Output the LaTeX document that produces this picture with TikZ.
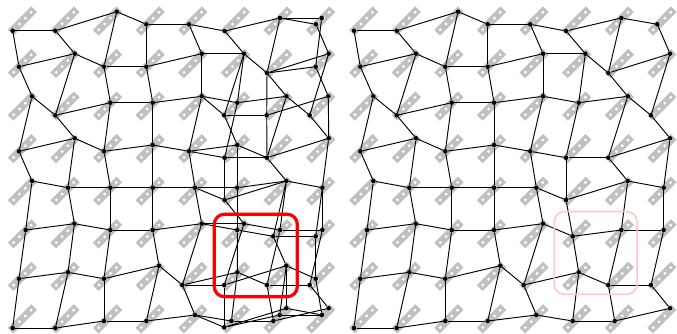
\documentclass[tikz,border=0pt]{standalone}
\definecolor{barcol}{HTML}{C0C0C0}
\definecolor{boxred}{HTML}{FF0000}
\definecolor{boxpale}{HTML}{FFC4C4}
\tikzset{
  dot/.style={circle,fill=black,inner sep=0pt,minimum size=4.6pt},
  mesh/.style={black,line width=0.95pt},
  barbody/.style={barcol,line width=8pt},
  barhole/.style={fill=white,draw=none},
  selstrong/.style={boxred,line width=3.2pt,rounded corners=10pt},
  selpale/.style={boxpale,line width=1.5pt,rounded corners=10pt}
}
\newcommand{\bars}{%
  \foreach \i in {0,...,7}{\foreach \j in {0,...,7}{
    \begin{scope}[shift={({22.4+42.6*\i},{21+42.55*\j})}]
      \draw[barbody] (-11.8,11.8) -- (11.8,-11.8);
      \foreach \h in {-8.7,-2.9,2.9,8.7}{\fill[barhole] (\h,-\h) circle (1.6);}
    \end{scope}}}}
\newcommand{\sharednodes}[1]{%
  \foreach \r/\c/\x/\y in {
   1/1/12.7/30.7,1/2/55.4/30.7,1/3/116.7/11.7,1/4/146.4/24.3,1/5/189/24.3,1/6/224.7/31,1/7/280/18,1/8/316/24.3,
   2/1/19/66.7,2/2/74.7/53.7,2/3/104/66.7,2/4/146.4/66.7,2/5/201.7/53.7,2/6/244/53.7,2/7/267/73,2/8/328.7/53.7,
   3/1/32/96.3,3/2/55.4/115.3,3/3/110.4/102.7,3/4/152.7/102.7,3/5/201.7/96.3,3/6/237.4/102.7,3/7/286.4/96.3,3/8/309.7/115.3,
   4/1/19/151.3,4/2/74.7/138.3,4/3/104/151.3,4/4/152.7/145,4/5/189/151.3,4/6/224.7/157.7,4/7/267/157.7,4/8/328.7/138.3,
   5/1/32/181,5/2/68/187.7,5/3/110.4/187.7,5/4/152.7/187.7,5/5/195/187.7,5/6/224.7/200,5/7/286.4/181,5/8/322.4/187.7,
   6/1/25.7/230,6/2/74.4/223.7,6/3/110.4/230,6/4/152.7/230,6/5/201.7/223.7,6/7/280/230,6/8/322.4/230,
   7/1/19/278.7,7/2/68/272.3,7/3/104/278.7,7/4/159/265.7,7/5/182.4/285,7/6/237.4/272.3,7/7/267/285,7/8/309.7/285,
   8/1/12.7/328,8/2/55.4/328,8/3/104/321,8/4/146.4/321,8/5/195/315,8/6/231.4/321,8/7/273.4/321,8/8/328.7/308.3}{
     \node[dot] (#1r\r c\c) at (\x,\y) {};
  }}
\newcommand{\sharededges}[1]{%
  \foreach \r in {1,2,3,4,5,7,8}{\foreach \c [evaluate=\c as \d using int(\c+1)] in {1,...,7}{
    \draw[mesh] (#1r\r c\c) -- (#1r\r c\d);}}
  \foreach \c in {1,2,3,4,5,7,8}{\foreach \r [evaluate=\r as \s using int(\r+1)] in {1,...,7}{
    \draw[mesh] (#1r\r c\c) -- (#1r\s c\c);}}
  \foreach \c [evaluate=\c as \d using int(\c+1)] in {1,2,3,4,7}{
    \draw[mesh] (#1r6c\c) -- (#1r6c\d);}
  \foreach \r [evaluate=\r as \s using int(\r+1)] in {1,2,3,4,7}{
    \draw[mesh] (#1r\r c6) -- (#1r\s c6);}
}
\begin{document}
\begin{tikzpicture}[x=1pt,y=-1pt]
\useasboundingbox (0,0) rectangle (677,333);
\bars
\begin{scope}[xshift=341.33pt]\bars\end{scope}
% left mesh
\sharednodes{L}
\foreach \n/\x/\y in {xE/321.7/18,xJ/315.7/66.7,xO/224.3/115.3,xP/266.7/115.3,xQ/328.3/96.3,xV/237.3/145,
  xb/237.3/187.7,xg/244/223.7,xh/237.3/230,xi/273.3/236.3,xk/315.7/236.3,xn/286.3/265.7,xo/315.7/278.7,
  xq/224.3/285,xu/224.3/327.3,xx/279.7/315,xy/286.3/308.3,xz/322/315}{
  \node[dot] (\n) at (\x,\y) {};
}
\sharededges{L}
\foreach \a/\b in {Lr1c7/xE,xE/xJ,Lr2c7/xJ,xJ/xQ,xQ/Lr4c8,xQ/xP,xP/xO,Lr3c5/xO,xO/Lr2c6,xO/xV,Lr2c7/xP,xP/Lr4c7,
  Lr4c5/xV,xV/Lr4c7,xV/xb,Lr5c5/xb,xb/Lr5c7,xb/xh,Lr5c6/xg,Lr6c5/xg,xg/Lr6c7,Lr6c5/xh,xh/xi,xi/xk,xh/Lr7c6,xg/xq,
  Lr7c5/xq,xq/xn,xn/xo,Lr5c7/xi,xi/xn,Lr5c8/xk,xk/xo,xq/xu,Lr8c5/xu,xu/xx,xu/xy,xn/xx,xn/xy,xx/xz,xy/xz,xo/xz}{
  \draw[mesh] (\a) -- (\b);
}
\node[inner sep=0pt,minimum size=0pt] (boxLa) at (214.3,214.3) {};
\node[inner sep=0pt,minimum size=0pt] (boxLb) at (297.3,296.7) {};
\draw[selstrong] (boxLa) rectangle (boxLb);
% right mesh
\begin{scope}[xshift=341.33pt]
\sharednodes{R}
\node[dot] (Rr6c6) at (231.4,236.3) {};
\sharededges{R}
\draw[mesh] (Rr6c5) -- (Rr6c6);
\draw[mesh] (Rr6c6) -- (Rr6c7);
\draw[mesh] (Rr5c6) -- (Rr6c6);
\draw[mesh] (Rr6c6) -- (Rr7c6);
\node[inner sep=0pt,minimum size=0pt] (boxRa) at (213,211.7) {};
\node[inner sep=0pt,minimum size=0pt] (boxRb) at (295.7,294.3) {};
\draw[selpale] (boxRa) rectangle (boxRb);
\end{scope}
\end{tikzpicture}
\end{document}
